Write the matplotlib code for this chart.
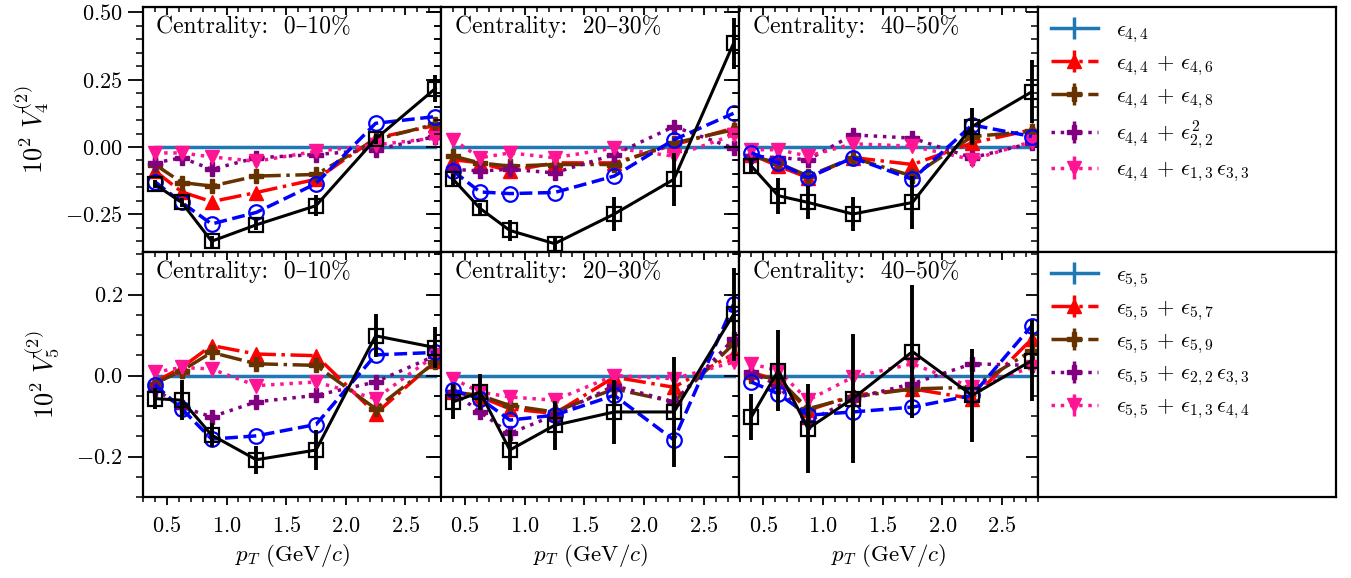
import numpy as np
import matplotlib
matplotlib.use("Agg")
import matplotlib.pyplot as plt
from matplotlib.ticker import MultipleLocator

plt.rcParams.update({
    "font.family": ["cmr10", "DejaVu Serif"],
    "mathtext.fontset": "cm",
    "axes.formatter.use_mathtext": True,
    "axes.unicode_minus": True,
})

# ---------------- data ----------------
pt = [0.4, 0.625, 0.875, 1.25, 1.75, 2.25, 2.75]
centralities = ["0–10%", "20–30%", "40–50%"]

# V4 (top row), one list per centrality
v4_data = [[-0.139, -0.206, -0.350, -0.289, -0.218, 0.030, 0.217],
           [-0.120, -0.228, -0.310, -0.359, -0.249, -0.120, 0.385],
           [-0.071, -0.181, -0.206, -0.249, -0.206, 0.076, 0.205]]
v4_data_err = [[0.015, 0.015, 0.020, 0.020, 0.040, 0.020, 0.050],
               [0.020, 0.020, 0.040, 0.030, 0.064, 0.098, 0.095],
               [0.030, 0.067, 0.060, 0.064, 0.100, 0.070, 0.117]]
v4_circ = [[-0.129, -0.206, -0.286, -0.243, -0.136, 0.088, 0.113],
           [-0.089, -0.167, -0.173, -0.169, -0.108, 0.027, 0.125],
           [-0.022, -0.059, -0.114, -0.040, -0.120, 0.082, 0.039]]
v4_e46 = [[-0.089, -0.167, -0.203, -0.169, -0.120, 0.033, 0.080],
          [-0.047, -0.059, -0.089, -0.059, -0.059, 0.008, 0.070],
          [-0.028, -0.071, -0.114, -0.039, -0.065, 0.015, 0.064]]
v4_e48 = [[-0.065, -0.132, -0.145, -0.108, -0.102, 0.027, 0.085],
          [-0.034, -0.059, -0.071, -0.065, -0.065, 0.015, 0.064],
          [-0.034, -0.059, -0.108, -0.040, -0.108, 0.039, 0.058]]
v4_e22sq = [[-0.059, -0.040, -0.083, -0.040, -0.028, -0.010, 0.039],
            [-0.083, -0.089, -0.083, -0.096, -0.028, 0.076, -0.004],
            [-0.034, -0.040, -0.047, 0.045, 0.033, -0.040, 0.015]]
v4_e13e33 = [[-0.022, -0.022, -0.037, -0.053, -0.016, 0.008, 0.033],
             [0.027, -0.040, -0.022, -0.040, -0.004, -0.034, 0.045],
             [-0.010, -0.010, -0.034, 0.012, 0.003, -0.047, 0.020]]

# V5 (bottom row)
v5_data = [[-0.057, -0.061, -0.147, -0.208, -0.184, 0.098, 0.069],
           [-0.065, -0.041, -0.184, -0.123, -0.090, -0.090, 0.151],
           [-0.102, 0.012, -0.131, -0.057, 0.059, -0.049, 0.037]]
v5_data_err = [[0.025, 0.050, 0.030, 0.035, 0.050, 0.053, 0.050],
               [0.043, 0.045, 0.050, 0.060, 0.078, 0.135, 0.114],
               [0.057, 0.100, 0.110, 0.160, 0.165, 0.114, 0.100]]
v5_circ = [[-0.023, -0.082, -0.157, -0.149, -0.121, 0.051, 0.057],
           [-0.037, -0.057, -0.110, -0.098, -0.049, -0.159, 0.176],
           [-0.016, -0.045, -0.098, -0.090, -0.078, -0.049, 0.123]]
v5_e57 = [[-0.016, 0.020, 0.074, 0.053, 0.049, -0.094, 0.035],
          [-0.041, -0.053, -0.082, -0.094, -0.004, -0.029, 0.053],
          [0.008, -0.012, -0.086, -0.049, -0.033, -0.057, 0.090]]
v5_e59 = [[-0.020, 0.012, 0.057, 0.029, 0.025, -0.082, 0.033],
          [-0.041, -0.049, -0.074, -0.090, -0.033, -0.065, 0.078],
          [0.000, -0.008, -0.082, -0.053, -0.033, -0.029, 0.061]]
v5_e22e33 = [[-0.033, -0.078, -0.102, -0.065, -0.049, -0.016, 0.049],
             [-0.041, -0.090, -0.143, -0.098, -0.025, -0.065, 0.090],
             [0.008, -0.025, -0.114, -0.057, -0.020, 0.029, 0.025]]
v5_e13e44 = [[0.008, 0.020, 0.016, -0.025, -0.016, -0.057, 0.050],
             [-0.008, -0.041, -0.053, -0.061, 0.000, -0.008, 0.033],
             [0.029, 0.012, -0.061, -0.004, 0.029, -0.029, 0.020]]

labels4 = [r"$\epsilon_{4,4}$",
           r"$\epsilon_{4,4}\,+\,\epsilon_{4,6}$",
           r"$\epsilon_{4,4}\,+\,\epsilon_{4,8}$",
           r"$\epsilon_{4,4}\,+\,\epsilon_{2,2}^{2}$",
           r"$\epsilon_{4,4}\,+\,\epsilon_{1,3}\,\epsilon_{3,3}$"]
labels5 = [r"$\epsilon_{5,5}$",
           r"$\epsilon_{5,5}\,+\,\epsilon_{5,7}$",
           r"$\epsilon_{5,5}\,+\,\epsilon_{5,9}$",
           r"$\epsilon_{5,5}\,+\,\epsilon_{2,2}\,\epsilon_{3,3}$",
           r"$\epsilon_{5,5}\,+\,\epsilon_{1,3}\,\epsilon_{4,4}$"]
ylabels = [r"$10^2\ V_4^{(2)}$", r"$10^2\ V_5^{(2)}$"]

rows = [
    dict(data=v4_data, err=v4_data_err, circ=v4_circ,
         models=[v4_e46, v4_e48, v4_e22sq, v4_e13e33], labels=labels4,
         ylim=(-0.39, 0.52), major=0.25, minor=0.05),
    dict(data=v5_data, err=v5_data_err, circ=v5_circ,
         models=[v5_e57, v5_e59, v5_e22e33, v5_e13e44], labels=labels5,
         ylim=(-0.30, 0.305), major=0.2, minor=0.05),
]

model_styles = [
    dict(color="red", ls="-.", marker="^"),
    dict(color="#663300", ls="-.", marker="P"),
    dict(color="purple", ls=":", marker="P"),
    dict(color="deeppink", ls=":", marker="v"),
]

# ---------------- figure ----------------
fig = plt.figure(figsize=(13.51, 5.78), dpi=100)
gs = fig.add_gridspec(2, 4, left=143 / 1351, right=1336 / 1351,
                      top=1 - 7 / 578, bottom=1 - 497 / 578,
                      wspace=0, hspace=0)

FS = 16
zeros = np.zeros(len(pt))

for r, row in enumerate(rows):
    handles = None
    for c in range(3):
        ax = fig.add_subplot(gs[r, c])
        h0 = ax.errorbar(pt, zeros, yerr=zeros, color="#1f77b4", lw=2.5,
                         elinewidth=2.5, capsize=0, zorder=1,
                         label=row["labels"][0])
        hs = [h0]
        for k, (m, st) in enumerate(zip(row["models"], model_styles)):
            h = ax.errorbar(pt, m[c], yerr=zeros, color=st["color"],
                            ls=st["ls"], marker=st["marker"], ms=10.5,
                            lw=2.5, elinewidth=2.5, capsize=0, zorder=3,
                            label=row["labels"][k + 1])
            hs.append(h)
        ax.plot(pt, row["circ"][c], color="blue", ls="--", lw=2.5,
                marker="o", ms=10.5, mfc="none", mew=1.6, zorder=4)
        ax.errorbar(pt, row["data"][c], yerr=row["err"][c], color="black",
                    lw=2.2, marker="s", ms=10.5, mfc="none", mec="black",
                    mew=1.6, elinewidth=2.8, capsize=0, zorder=5)
        if handles is None:
            handles = hs

        ax.set_xlim(0.3, 2.8)
        ax.set_ylim(*row["ylim"])
        ax.xaxis.set_major_locator(MultipleLocator(0.5))
        ax.xaxis.set_minor_locator(MultipleLocator(0.1))
        ax.yaxis.set_major_locator(MultipleLocator(row["major"]))
        ax.yaxis.set_minor_locator(MultipleLocator(row["minor"]))
        ax.tick_params(axis="y", which="major", direction="out", length=11,
                       width=1.3, labelsize=FS)
        ax.tick_params(axis="y", which="minor", direction="out", length=5,
                       width=1.1)
        ax.tick_params(axis="x", which="major", direction="out", length=6,
                       width=1.3, labelsize=FS, pad=8)
        ax.tick_params(axis="x", which="minor", direction="out", length=3.5,
                       width=1.1)
        for s in ax.spines.values():
            s.set_linewidth(1.6)

        secx = ax.secondary_xaxis("top")
        secx.xaxis.set_major_locator(MultipleLocator(0.5))
        secx.xaxis.set_minor_locator(MultipleLocator(0.1))
        secx.tick_params(which="major", direction="in", length=6, width=1.3,
                         labeltop=False)
        secx.tick_params(which="minor", direction="in", length=3.5, width=1.1)
        secy = ax.secondary_yaxis("right")
        secy.yaxis.set_major_locator(MultipleLocator(row["major"]))
        secy.yaxis.set_minor_locator(MultipleLocator(row["minor"]))
        secy.tick_params(which="major", direction="in", length=9, width=1.3,
                         labelright=False)
        secy.tick_params(which="minor", direction="in", length=5, width=1.1)

        if c > 0:
            ax.tick_params(axis="y", labelleft=False)
        else:
            ax.set_ylabel(ylabels[r], fontsize=19, labelpad=10)
        if r == 0:
            ax.tick_params(axis="x", labelbottom=False)
        else:
            ax.set_xlabel(r"$p_T$ (GeV/$c$)", fontsize=FS + 0.5)

        ax.text(0.045, 0.965, "Centrality:  " + centralities[c],
                transform=ax.transAxes, ha="left", va="top", fontsize=FS + 1)

    axl = fig.add_subplot(gs[r, 3])
    axl.set_xticks([])
    axl.set_yticks([])
    for s in axl.spines.values():
        s.set_linewidth(1.6)
    axl.legend(handles, row["labels"], loc="upper left", frameon=False,
               fontsize=FS, handlelength=2.1, handletextpad=0.8,
               labelspacing=0.38, borderaxespad=0.25, borderpad=0.35)

fig.savefig("out.png", dpi=100)
